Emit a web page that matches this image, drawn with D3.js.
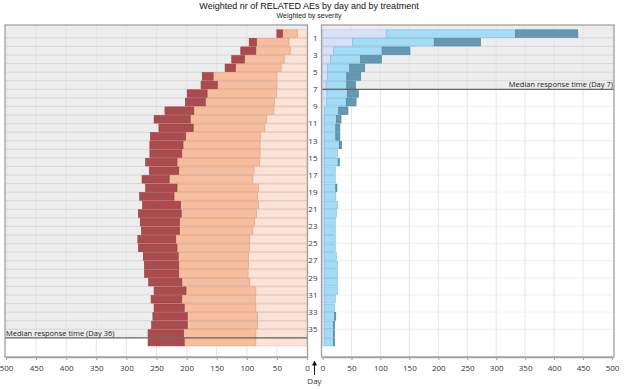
<!DOCTYPE html>
<html lang="en">
<head>
    <meta charset="utf-8" />
    <script src="https://d3js.org/d3.v7.min.js"></script>
    <style>
        body {
            margin: 0;
            background: #fff;
        }
        text {
            font-family: "Open Sans", "Noto Sans", sans-serif;
        }
    </style>
</head>
<body>
    <script>
        // Days (one row per day) and day labels
        var days = [0, 1, 2, 3, 4, 5, 6, 7, 8, 9, 10, 11, 12, 13, 14, 15, 16, 17, 18,
                    19, 20, 21, 22, 23, 24, 25, 26, 27, 28, 29, 30, 31, 32, 33, 34, 35, 36];
        var dayLabels = [1, 3, 5, 7, 9, 11, 13, 15, 17, 19, 21, 23, 25, 27, 29, 31, 33, 35];
        var xTicks = [0, 50, 100, 150, 200, 250, 300, 350, 400, 450, 500];

        // Left treatment, weighted AEs by severity
        var leftMild = [16, 30, 28, 38, 43, 50, 50, 51, 54, 55, 67, 70, 77, 78, 78, 79, 88, 90, 81,
                        82, 81, 84, 87, 90, 95, 96, 97, 97, 98, 95, 85, 86, 85, 82, 82, 85, 85];
        var leftModerate = [25, 54, 57, 66, 76, 106, 99, 115, 115, 133, 127, 119, 125, 128, 130, 137, 125, 139, 135,
                            139, 129, 125, 125, 122, 123, 120, 117, 116, 115, 113, 116, 122, 119, 117, 117, 120, 119];
        var leftSevere = [9, 12, 25, 21, 17, 18, 27, 33, 33, 48, 60, 57, 58, 55, 53, 52, 49, 45, 52,
                          57, 63, 71, 65, 63, 63, 64, 58, 57, 57, 55, 53, 51, 50, 57, 59, 59, 60];
        var leftMedianDay = 36;

        // Right treatment, weighted AEs by severity
        var rightMild = [110, 52, 19, 14, 9, 9, 6, 8, 7, 4, 3, 3, 3, 3, 3, 3, 3, 3, 3,
                         3, 3, 3, 3, 3, 3, 3, 3, 4, 4, 4, 4, 4, 4, 4, 4, 4, 4];
        var rightModerate = [223, 141, 84, 52, 38, 33, 36, 35, 34, 24, 21, 20, 20, 26, 23, 24, 19, 19, 20,
                             20, 23, 21, 19, 19, 19, 19, 21, 22, 22, 22, 22, 18, 17, 17, 15, 15, 15];
        var rightSevere = [108, 80, 48, 36, 26, 24, 15, 19, 17, 16, 8, 7, 7, 4, 0, 2, 0, 0, 2,
                           0, 0, 0, 0, 0, 0, 0, 0, 0, 0, 0, 0, 0, 0, 2, 2, 2, 2];
        var rightMedianDay = 7;

        var width = 624, height = 389;
        var plotTop = 25, plotBottom = 357;

        var svg = d3.select("body").append("svg")
            .attr("width", width)
            .attr("height", height);

        // Titles
        svg.append("text")
            .attr("x", 309).attr("y", 8.5)
            .attr("text-anchor", "middle")
            .style("font-family", "'Liberation Sans', Arial, sans-serif")
            .style("font-size", "9px")
            .attr("fill", "#111")
            .text("Weighted nr of RELATED AEs by day and by treatment");
        svg.append("text")
            .attr("x", 309).attr("y", 17.5)
            .attr("text-anchor", "middle")
            .style("font-family", "'Liberation Sans', Arial, sans-serif")
            .style("font-size", "7px")
            .attr("fill", "#222")
            .text("Weighted by severity");

        // Rows
        var y = d3.scaleBand().domain(days).range([29.3, 346.4]);

        // Scales of the two panels
        var xLeft = d3.scaleLinear().domain([0, 500]).range([307, 6]);
        var xRight = d3.scaleLinear().domain([0, 500]).range([322.5, 612]);

        function drawPanel(x, x0, x1, mild, moderate, severe, medianDay, colors, strokes, labelRight) {
            var g = svg.append("g");
            var lineY = y(medianDay);

            // grey background above the median line
            g.append("rect")
                .attr("x", x0).attr("y", plotTop)
                .attr("width", x1 - x0).attr("height", lineY - plotTop)
                .attr("fill", "#ededed");

            // vertical grid
            g.selectAll(".vg")
                .data(xTicks.slice(1, -1))
                .join("line")
                .attr("x1", function(d) { return x(d); })
                .attr("x2", function(d) { return x(d); })
                .attr("y1", plotTop)
                .attr("y2", plotBottom)
                .attr("stroke", "#e0e0e0")
                .attr("stroke-width", 0.8);

            // row separators in the grey part, odd day lines in the white part
            g.selectAll(".hg")
                .data(days.filter(function(d) { return d > 0 && (d < medianDay || d % 2 == 1); }))
                .join("line")
                .attr("x1", x0).attr("x2", x1)
                .attr("y1", function(d) { return y(d); })
                .attr("y2", function(d) { return y(d); })
                .attr("stroke", function(d) { return d < medianDay ? "#d2d2d2" : "#ececec"; })
                .attr("stroke-width", 0.8);

            // stacked bars
            var series = [mild, moderate, severe];
            series.forEach(function(vals, k) {
                g.selectAll(".b" + k)
                    .data(days.filter(function(d) { return vals[d] > 0; }))
                    .join("rect")
                    .attr("x", function(d) {
                        var start = 0;
                        for (var j = 0; j < k; j++) start += series[j][d];
                        return Math.min(x(start), x(start + vals[d]));
                    })
                    .attr("width", function(d) {
                        var start = 0;
                        for (var j = 0; j < k; j++) start += series[j][d];
                        return Math.abs(x(start + vals[d]) - x(start));
                    })
                    .attr("y", function(d) { return y(d) + 0.5; })
                    .attr("height", y.bandwidth() - 1)
                    .attr("fill", colors[k])
                    .attr("stroke", strokes[k])
                    .attr("stroke-width", 0.6);
            });

            // median line
            g.append("line")
                .attr("x1", x0).attr("x2", x1)
                .attr("y1", lineY).attr("y2", lineY)
                .attr("stroke", "#666")
                .attr("stroke-width", 1.3);
            g.append("text")
                .attr("x", labelRight ? x1 - 1 : x0 + 1)
                .attr("y", lineY - 2)
                .attr("text-anchor", labelRight ? "end" : "start")
                .style("font-size", "7.5px")
                .attr("fill", "#222")
                .text("Median response time (Day " + medianDay + ")");

            // frame
            g.append("rect")
                .attr("x", x0).attr("y", plotTop)
                .attr("width", x1 - x0).attr("height", plotBottom - plotTop)
                .attr("fill", "none")
                .attr("stroke", "#a0a0a0")
                .attr("stroke-width", 1.3);

            // x axis
            var axis = g.append("g")
                .attr("transform", "translate(0," + plotBottom + ")")
                .call(d3.axisBottom(x).tickValues(xTicks).tickSize(3).tickSizeOuter(0));
            axis.select(".domain").attr("stroke", "#a0a0a0").attr("stroke-width", 1.3);
            axis.selectAll(".tick line").attr("stroke", "#a0a0a0");
            axis.selectAll(".tick text")
                .attr("y", 8)
                .style("font-family", "'Open Sans', sans-serif")
                .style("font-size", "8px")
                .attr("fill", "#333");
        }

        drawPanel(xLeft, 5, 307.5, leftMild, leftModerate, leftSevere, leftMedianDay,
            ["#fce3d7", "#f8bd9d", "#ad4a4d"], ["#e6c4b6", "#d9a286", "#8e3a3d"], false);
        drawPanel(xRight, 321.5, 614, rightMild, rightModerate, rightSevere, rightMedianDay,
            ["#d9e1f8", "#a3dcf7", "#6499b2"], ["#b8c3e0", "#7fbbd8", "#4d7f97"], true);

        // day labels between the panels
        svg.selectAll(".day")
            .data(dayLabels)
            .join("text")
            .attr("x", 317.5)
            .attr("y", function(d) { return y(d); })
            .attr("dy", "0.35em")
            .attr("text-anchor", "end")
            .style("font-size", "8px")
            .attr("fill", "#333")
            .text(function(d) { return d; });

        // "Day" arrow under the axes
        svg.append("defs").append("marker")
            .attr("id", "arrow")
            .attr("viewBox", "0 0 10 10")
            .attr("refX", 5).attr("refY", 5)
            .attr("markerWidth", 5).attr("markerHeight", 5)
            .attr("orient", "auto-start-reverse")
            .append("path")
            .attr("d", "M0,0 L10,5 L0,10 z")
            .attr("fill", "#111");
        svg.append("line")
            .attr("x1", 314.5).attr("x2", 314.5)
            .attr("y1", 375).attr("y2", 363)
            .attr("stroke", "#111")
            .attr("stroke-width", 1)
            .attr("marker-end", "url(#arrow)");
        svg.append("text")
            .attr("x", 314.5).attr("y", 384)
            .attr("text-anchor", "middle")
            .style("font-size", "8px")
            .attr("fill", "#333")
            .text("Day");
    </script>
</body>
</html>
